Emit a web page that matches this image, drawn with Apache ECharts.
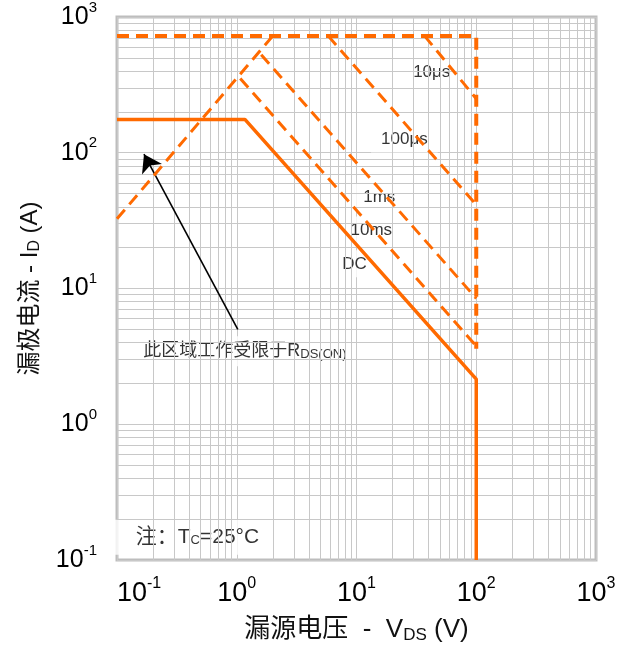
<!DOCTYPE html>
<html>
<head>
<meta charset="utf-8">
<script src="https://cdn.jsdelivr.net/npm/echarts@6/dist/echarts.min.js"></script>
<style>
  html, body { margin: 0; padding: 0; background: #fff; }
  #chart { width: 625px; height: 653px; }
</style>
</head>
<body>
<div id="chart"></div>
<script>
// decade exponents labelled on the axes, minor grid steps inside a decade
const xExponents = [-1, 0, 1, 2, 3];
const yExponents = [-1, 0, 1, 2, 3];
const minorSteps = [2, 3, 4, 5, 6, 7, 8, 9];

// SOA boundaries as [V_DS (V), I_D (A)]
const rdsLimit = [[0.1, 32.6], [2.0, 726]];
const currentLimit = [[0.1, 726], [100, 726], [100, 3.6]];
const pulse10us = [[37, 726], [100, 250]];
const pulse100us = [[5.8, 726], [100, 41.3]];
const pulse1ms = [[1.6, 528], [100, 8.45]];
const pulse10ms = [[1.07, 352], [100, 3.76]];
const dcLimit = [[0.1, 176], [1.17, 176], [100, 2.15], [100, 0.1]];

// annotations
const curveNames = ['10μs', '100μs', '1ms', '10ms', 'DC'];
const curveLabelAt = [[42.5, 392], [25.1, 126], [15.5, 47.2], [13.3, 27], [9.63, 15.2]];
const rdsNote = '此区域工作受限于R{sub|DS(ON)}';
const rdsNoteAt = [1.17, 3.45];
const arrowFrom = [1.02, 5.0];
const arrowTo = [0.168, 97.5];
const tcNote = '注：T{sub|C}=25°C';
const tcNoteAt = [0.47, 0.147];

const ORANGE = '#ff6a00';
const GRID = '#c8c8c8';
const LATIN = '"Liberation Sans", "Noto Sans CJK SC", sans-serif';

const chart = echarts.init(document.getElementById('chart'));

// minor log grid lines (2..9 x 10^k)
const minorX = [];
xExponents.slice(0, -1).forEach((e) => minorSteps.forEach((s) => minorX.push({ xAxis: s * Math.pow(10, e) })));
const minorY = [];
yExponents.slice(0, -1).forEach((e) => minorSteps.forEach((s) => minorY.push({ yAxis: s * Math.pow(10, e) })));

function powLabel(exps) {
  return (v) => {
    const e = Math.round(Math.log10(v));
    return exps.indexOf(e) >= 0 ? '10{sup|' + e + '}' : '';
  };
}

function dashed(name, data, width) {
  return {
    name: name,
    type: 'line',
    data: data,
    symbol: 'none',
    z: 5,
    silent: true,
    lineStyle: { color: ORANGE, width: width, type: [12, 7], cap: 'butt' },
  };
}

const labelData = curveNames.map((n, i) => ({ value: curveLabelAt[i], name: n }));
labelData.push({
  value: rdsNoteAt,
  name: rdsNote,
  label: { fontSize: 18, padding: [5, 6] },
});
labelData.push({
  value: tcNoteAt,
  name: tcNote,
  label: { fontSize: 21, padding: [7, 22] },
});

const option = {
  animation: false,
  backgroundColor: '#fff',
  grid: {
    left: 117,
    top: 14,
    width: 479,
    height: 546,
    show: true,
    borderColor: '#bdbdbd',
    borderWidth: 3,
  },
  xAxis: {
    type: 'log',
    logBase: 10,
    min: 0.1,
    max: 1000,
    name: '漏源电压  -  V{sub|DS} (V)',
    nameLocation: 'middle',
    nameGap: 54,
    nameTextStyle: {
      fontSize: 26,
      color: '#111',
      fontFamily: LATIN,
      rich: { sub: { fontSize: 17, padding: [10, 0, 0, 0], fontFamily: LATIN, color: '#111' } },
    },
    axisLine: { show: false },
    axisTick: { show: false },
    splitLine: { show: true, lineStyle: { color: GRID, width: 1 } },
    axisLabel: {
      margin: 16,
      fontSize: 27,
      lineHeight: 36,
      color: '#000',
      fontFamily: LATIN,
      alignMinLabel: 'left',
      formatter: powLabel(xExponents),
      rich: { sup: { fontSize: 16, verticalAlign: 'top', lineHeight: 20, fontFamily: LATIN, color: '#000' } },
    },
  },
  yAxis: {
    type: 'log',
    logBase: 10,
    min: 0.1,
    max: 1000,
    name: '漏极电流 - I{sub|D} (A)',
    nameLocation: 'middle',
    nameGap: 74,
    nameTextStyle: {
      fontSize: 24,
      color: '#111',
      fontFamily: LATIN,
      rich: { sub: { fontSize: 16, padding: [10, 0, 0, 0], fontFamily: LATIN, color: '#111' } },
    },
    axisLine: { show: false },
    axisTick: { show: false },
    splitLine: { show: true, lineStyle: { color: GRID, width: 1 } },
    axisLabel: {
      margin: 20,
      fontSize: 25,
      lineHeight: 34,
      color: '#000',
      fontFamily: LATIN,
      formatter: powLabel(yExponents),
      rich: { sup: { fontSize: 15, verticalAlign: 'top', lineHeight: 18, fontFamily: LATIN, color: '#000' } },
    },
  },
  series: [
    {
      name: 'grid',
      type: 'line',
      data: [],
      z: 1,
      silent: true,
      markLine: {
        silent: true,
        symbol: 'none',
        label: { show: false },
        animation: false,
        lineStyle: { color: GRID, width: 1, type: 'solid' },
        data: minorX.concat(minorY),
      },
    },
    {
      name: 'labels',
      type: 'scatter',
      symbolSize: 0,
      z: 3,
      silent: true,
      data: labelData,
      label: {
        show: true,
        position: 'inside',
        formatter: (p) => p.name,
        color: '#000',
        fontSize: 17,
        fontFamily: LATIN,
        backgroundColor: '#fff',
        padding: [5, 10],
        rich: { sub: { fontSize: 13, padding: [7, 0, 0, 0], fontFamily: LATIN, color: '#000' } },
      },
      markLine: {
        silent: true,
        symbol: ['none', 'arrow'],
        symbolSize: 17,
        label: { show: false },
        animation: false,
        lineStyle: { color: '#000', width: 1.6, type: 'solid' },
        data: [[{ coord: arrowFrom }, { coord: arrowTo }]],
      },
    },
    dashed('RDS(on)', rdsLimit, 3),
    dashed('current limit', currentLimit, 4),
    dashed('10μs', pulse10us, 3),
    dashed('100μs', pulse100us, 3),
    dashed('1ms', pulse1ms, 3),
    dashed('10ms', pulse10ms, 3),
    {
      name: 'DC',
      type: 'line',
      data: dcLimit,
      symbol: 'none',
      z: 6,
      silent: true,
      lineStyle: { color: ORANGE, width: 3.5 },
    },
  ],
};

chart.setOption(option);
</script>
</body>
</html>
